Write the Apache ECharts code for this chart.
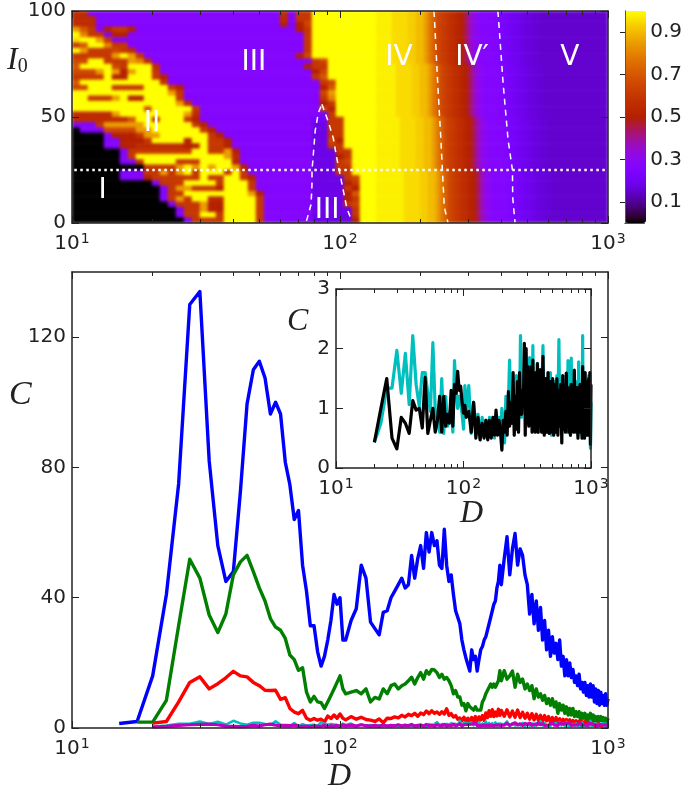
<!DOCTYPE html>
<html><head><meta charset="utf-8">
<style>html,body{margin:0;padding:0;background:#fff}#c{width:685px;height:790px}</style>
<script src="https://cdn.jsdelivr.net/npm/echarts@6/dist/echarts.min.js"></script>
</head><body><div id="c"></div>
<script>
// ---------- line chart data ----------
const D_LOW=[15,17.5,20,22.5,25,27.5,30,32.5,35,37.5,40,42.5,45,47.5,50,52.5,55,57.5,60,62.5,65,67.5,70,72.5,75,77.5,80,82.5,85,87.5,90,92.5,95,97.5,100,102.5];
const D_MID=[105,110,115,120,125,130,135,140,145,150,155,160,165,170,175,180,185,190,195,200,205,210,215,220,225,230,235,240,245,250,255,260,265,270,275,280,285,290,295,300,305,310,315,320,325,330,335,340,345,350,355,360,365,370,375,380,385,390,395,400];
const D_HIGH=[410,420,430,440,450,460,470,480,490,500,510,520,530,540,550,560,570,580,590,600,610,620,630,640,650,660,670,680,690,700,710,720,730,740,750,760,770,780,790,800,810,820,830,840,850,860,870,880,890,900,910,920,930,940,950,960,970,980,990,1000];
const BLUE=[1.4,2,16,41,75,130,134,82,56,45,48,72.6,99.5,110,112.6,107.5,96.4,100,96.4,81.6,74.7,64,66.8,50,42,31.4,31.4,23.4,19,22,27,33,41,38,40,27,
27,33,36.6,50,46,32.5,30.5,28.6,35.5,36,
40,42,44,46,43,44,53,46,52,56,
49,60,54,60,56,57.5,50,49,61,50,
45,47,41,36,34,32,27,24,21.5,21,
17.5,24,21,22,17.5,21,24,25,27,28,
30,32,34,36,38,39,43,45,50,44,
52,58.7,47,55,59.7,50,55,53,47,44,
35,41,32,39,30,37,27,33,24,30,
22,28,23,26,21,27,19,22,16,21,
16,20,15.5,18,14,16,13,16.5,12,14,
11,14,10,13,9.5,13.5,9.5,13,8,12,
7.5,11.5,7,11,7.5,10,7,10.5,7,9];
const GREEN=[null,1.8,1.8,8.5,31.5,51.8,46,34.7,29.3,35,47,51,53,48,43,39,33.6,31,30,27.5,22.4,21,17.7,18.5,11,8,9.7,8,7.8,6,8,10,12,14,16,12,
10.5,11,11.5,10.5,12,8,9.4,8.9,12,10.5,
13,13.5,12,13,13.5,14.5,15.6,13.5,15.5,17,
15,17.6,16.5,18,17.8,17,15.5,16.5,15,15.5,
14.5,13,10.5,11.5,9.5,9.5,7,7.5,5.3,7.5,
6.5,7,5.5,6.5,5.5,6,5.5,8,9,10.5,
11.5,12,13.5,12.5,13.5,12.5,12.5,14.5,17.6,14.5,
17.6,15,16,17.5,12.5,16.5,14,15,12,13.5,
11.5,13,9,12,9.5,10.5,8.5,10,7.5,9,
7,9,6.5,8,4.5,7.5,5.5,7,4.5,6.5,
4,6,4,6,3.5,5,3.5,5,2.5,4.5,
3,4.5,2.5,4,2.5,4.5,2.3,4,2.2,3.5,
2.2,3.5,2.3,3.5,2.2,3.2,1.8,3,1.8,3];
const RED=[null,null,1.5,2,8,14,15.7,12,13.6,15.4,17.4,16,15.7,14,13,11.6,11.5,11.6,8.8,9.3,6,4.9,4.4,5.4,3,2.4,2.9,2.4,2.7,1.8,3.7,2.9,4,3,4.3,3,
2.5,3.5,2.7,3.3,2.6,2.4,2,2.8,1.6,3,
2.9,3.4,3.1,3.9,3.4,4.2,3.8,4.5,3.6,4.6,
4.1,5.2,4.4,5.3,4.5,4.9,4.2,5,4.3,5.9,
3.9,4.4,3.4,3.8,2.7,3.1,2.2,3.3,2,3,
1.6,3.2,2,3.5,1.8,3.4,2.5,3.8,2.3,4.6,
3.2,5.3,3.6,5.6,3.5,4.9,3.7,5.8,3.9,5.4,
3.6,5.6,3.4,5.2,3.3,5.5,3.2,4.8,3,4.5,
2.7,4.4,2.5,4.2,2.4,3.9,2,3.8,2.2,3.5,
1.8,3.2,1.9,3.2,1.6,2.8,1.5,2.7,1.5,2.6,
1.3,2.5,1.2,2.3,1.4,2.2,1.1,2.1,1.2,2,
.9,1.9,1,1.8,.8,1.8,.9,1.6,.8,1.5,
.7,1.5,.8,1.4,.7,1.3,.8,1.3,.6,1.2];
const CYAN=[null,null,.43,.75,1.34,1.34,1.97,1.25,1.92,1.06,2.22,1.4,1.03,1.6,1.6,1.25,.95,2.1,.98,.8,.6,1.5,.58,1.2,.7,.9,1,.6,1.8,1.3,1,1.2,1.1,.9,.65,1.38,
.95,1.38,.58,1.1,.7,.9,.5,.85,.55,.8,
.5,.85,.55,.8,.5,.9,.6,.85,.55,1,
.65,.42,1.2,.7,1.15,1.81,.75,1.25,.8,1.3,
.7,1.55,.8,1.3,.9,2.22,.85,1.6,1,1.45,
.9,1.7,.8,1.5,.85,1.85,.75,1.4,.7,2.05,
.8,1.6,.65,1.5,.75,1.75,.6,1.4,.8,1.3,
1.1,2.05,.6,1.5,.7,1.3,.75,1.6,.55,1.35,
.7,1.45,.6,1.55,.9,2.15,.75,1.5,.85,1.4,
.65,1.3,.8,1.55,.6,1.8,.75,1.4,.55,1.84,
.7,1.2,.65,1.3,.6,1.45,.75,1.25,.55,1.78,
.65,1.2,.7,1.3,.55,2.22,.6,1.3,.7,1.45,
.55,1.2,.65,1.3,.7,1.55,.6,1.4,.33,1.1];
const BLACK=[null,null,.43,1,1.5,.5,.32,.85,.75,.58,1.13,.97,1,.67,1.52,.58,.8,1,.6,.8,1.2,.6,1.2,.7,.9,.75,1.3,.7,1.4,1.25,1.62,1.3,1.37,1.1,.92,1.05,
.85,.95,.6,1.1,.5,.85,.47,.75,.5,.8,
.47,.8,.5,.85,.55,.97,.55,.8,.6,.3,
.8,.6,.95,.55,1.28,.7,1.1,.75,1.6,.55,
1.2,.65,1.45,.6,1.6,1,.9,1.3,1.1,2.09,
.55,2,.75,1.7,.7,1.55,.8,1.7,.6,1.81,
.75,1.45,.6,1.6,.7,1.75,.6,1.5,.7,1.65,
.6,1.87,.55,1.5,.6,1.6,.58,1.45,.6,1.5,
.55,1.4,.6,1.5,.55,1.3,.7,1.4,.42,1.55,
.65,1.3,.6,1.59,.7,1.25,.6,1.35,.55,1.4,
.65,1.3,.6,1.64,.7,1.2,.6,1.35,.5,1.3,
.65,1.4,.6,1.3,.5,1.7,.55,1.4,.5,1.6,
.6,1.45,.55,1.3,.6,1.5,.55,1.6,.4,1.4];
const MAGENTA=[null,null,.3,.5,.8,1,1.1,1.2,1,.6,.5,.4,.5,.8,.6,1,1.2,.9,.7,.8,.7,.9,.6,.5,.6,.4,.7,.5,.6,.8,.4,.7,.6,.8,.5,.9,
.7,.9,.6,1,.7,.6,.8,.5,.9,.6,
.8,.7,1,.6,.9,.7,1.1,.6,.8,.9,
.6,1.1,.7,.9,.6,1,.8,.7,1.1,.6,
.9,.7,1.2,.7,.9,1.3,.6,1,.8,1.1,
.7,1.2,.9,1.5,.8,1.1,.7,1.3,.9,1.2,
.8,1.4,.9,1.1,.7,1.3,1,1.5,.8,1.2,
.9,1.4,.8,1.2,1.6,.9,1.3,.8,1.4,1,
1.5,.8,1.2,.9,1.6,1,1.3,.8,1.4,.9,
1.2,1.6,.9,1.3,.8,1.5,1,1.2,.7,1.4,
1.1,1.6,.8,1.3,1,1.5,.9,1.2,1.6,.8,
1.4,1,1.3,.8,1.5,.9,1.2,1.7,1,1.3,
.8,1.4,1.1,1.6,.9,1.3,1,1.5,.9,1.2];
// ---------- heatmap data: run-length rows, top (I0=100) to bottom (I0=0) ----------
const LEVELS={z:0,a:.15,b:.18,c:.22,d:.25,e:.27,f:.3,g:.35,h:.4,i:.45,j:.5,k:.55,l:.6,m:.65,n:.7,o:.75,p:.8,q:.85,r:.9,s:.95,t:1,
 A:.98,B:.93,C:.88,D:.82,E:.78,F:.72,G:.67,H:.62,I:.57,J:.52,K:.47,L:.42,M:.37,N:.32,O:.29,P:.26,Q:.235,R:.21,S:.195,T:.17,U:.16,V:.15};
const HEAT_LEFT=["k2e24k1e1l2","k3e23k1e1l2","k3e23j1d1j1m1","q1n1l1e1j1l2j1e20j1l1","t1p1l2e1j2e22l1","s1t2q1l1e24l1","l1n1t2p1l2e22l1","t1q1l3m1l1k1e21l1","l5q1t1q1l1e19j1m1","m2t2l3q1p1k1e20l1m1",
"n1t4m1l1t3k1e18j1l2","m3q1t1q1j1q1t2l1e19j1m1","l4t1j2t3l1j1e18l1n1","n1t10l1e19l1m1","m2t3l4t3l1j1e17j1n1","t12q1l1e17m1q1","t2l3q1t1j2t4l1e17l1p1","t13q1k1e16j1l1","t9n1t5l1e15m1j1","k5q1t8q1k1e15c1l1",
"k7n1t2l1t3l1j1e14c2l2","e3l1q5t6l1j1e13b2l2","z1e3m4q2t6l1j1e12b2l2","z4e1j3l1q2t6l1j1e11b2l2","z4e2j3l1t4j1t2l2j1e10b2m1j1","z4e2j2k6j2t1l2j1e10b2l2","z6e1l8t2l2q1j1e9b3l2","z6e1l1t11q1k1e9b3j1l1","z6e2l1t4l3t4j1e9b3l1m1","z9l4q1t1q1t1q1t2q1j1e8b3l2",
"z6e3l2q1l1q1t1l1t3l1t1l1e8b3l2","z6e3j1l6t1l2t2l1j1e7b4l1m1","z10e1l3t4l1t3l1e7b4j1l1","z11e1l1q2l3j1t3l1e7b4l1j1","z11e1l2t8q1j1e6b4j1n1","z11e1l1q1l1t2k2t4l1e6b4j1l1","z12e1l3q1j2t4l1e6b4l1m1","z13e1l2q1j2t4l1e6b5l1","z13e1l2t2l1t4l1e6b5l1","z14e1l4t4l1e6b5j1"];
const HEAT_TAILS=[
 "A4s4B2r2q1E1F1m1H1l1I1k1J1j1i1M1N1O1e3P1d1Q1c1R1S2b1T2U2V17",
 "A5s4B2r2q1E1F1m1H1l1I1k1J1j1i1M1N1O1e3P1d1Q1c1R1S2b1T2U2V16",
 "A6s4B2r2q1E1F1m1H1l1I1k1J1j1i1M1N1O1e3P1d1Q1c1R1S2b1T2U2V15",
 "A7s4B2r2q1E1F1m1H1l1I1k1J1j1i1M1N1O1e3P1d1Q1c1R1S2b1T2U2V14"];
const HEAT_COLS=134, HEAT_ROWS=40, LEFT_COLS=38;
// ---------- boundaries (dashed), regions ----------
const B_III_L=[[75,1],[78,8.8],[78.6,18.2],[78.6,24.5],[79.7,34],[80.8,43.4],[83,52],[85.6,56]];
const B_III_R=[[85.6,56],[90.3,48],[94.4,40],[97.2,30.8],[100,23],[103,15],[106,7.2],[110.5,1]];
const B_IV=[[224,100],[225,97],[231.5,66],[238,39],[241,25],[245,7.5],[253,0]];
const B_V=[[388,100],[390,97],[406,66],[424,39],[440,25],[441,12],[450,0]];
const CUT=[[10.2,25],[990,25]];
const REGIONS=[['I',13,15],['II',19.9,46.6],['III',47.7,75.6],['III',89.5,5.7],['IV',166,78],['IV′',311,78],['V',721,78]];
// ---------- ticks ----------
const X_MAJOR=[10,100,1000];
const X_MINOR=[20,30,40,50,60,70,80,90,200,300,400,500,600,700,800,900];
const Y_HEAT=[0,50,100], Y_MAIN=[0,40,80,120], Y_INSET=[0,1,2,3], CB_TICKS=[.1,.3,.5,.7,.9];

const FONT='DejaVu Sans', MATH='Liberation Serif', AX='#222';
const D_ALL=[...D_LOW,...D_MID,...D_HIGH];
const pairs=v=>v.map((y,i)=>[D_ALL[i],y]).filter(p=>p[1]!==null);
function gnuplot(x){const c=v=>Math.round(255*Math.max(0,Math.min(1,v)));return `rgb(${c(Math.sqrt(x))},${c(x*x*x)},${c(Math.sin(2*Math.PI*x))})`;}
const stops=[];for(let i=0;i<=64;i++)stops.push(gnuplot(i/64));
function rle(s){const o=[];s.replace(/([a-zA-Z])(\d+)/g,(m,c,n)=>{for(let i=0;i<+n;i++)o.push(LEVELS[c]);return m;});return o;}
const heatData=[];
HEAT_LEFT.forEach((row,r)=>{
  const left=rle(row);while(left.length<LEFT_COLS)left.push(1);
  const doubled=[];left.forEach(v=>doubled.push(v,v));
  const tail=rle(HEAT_TAILS[Math.min(3,Math.floor(r/10))]);
  doubled.concat(tail).forEach((v,c)=>heatData.push([c,HEAT_ROWS-1-r,v]));
});
const colCats=[];for(let i=0;i<HEAT_COLS;i++)colCats.push(String(i));
const rowCats=[];for(let i=0;i<HEAT_ROWS;i++)rowCats.push(String(i));

const tickLabel=v=>`{b|10}{s|${Math.round(Math.log10(v))}}`;
const labelRich={b:{fontFamily:FONT,fontSize:20,color:AX},s:{fontFamily:FONT,fontSize:14,color:AX,padding:[0,0,10,1]}};
function logAxes(g){
  const base={type:'log',logBase:10,min:10,max:1000,gridIndex:g,z:5,splitLine:{show:false},minorTick:{show:false}};
  const line={show:true,lineStyle:{color:AX,width:1.5}};
  return [
   {...base,position:'bottom',axisLine:line,axisTick:{show:true,inside:true,length:7,customValues:X_MAJOR,lineStyle:{color:AX}},
    axisLabel:{show:true,customValues:X_MAJOR,margin:9,formatter:tickLabel,rich:labelRich,showMinLabel:true,showMaxLabel:true,hideOverlap:false}},
   {...base,position:'bottom',axisLine:{show:false},axisTick:{show:true,inside:true,length:4,customValues:X_MINOR,lineStyle:{color:AX}},axisLabel:{show:false}},
   {...base,position:'top',axisLine:line,axisTick:{show:true,inside:true,length:7,customValues:X_MAJOR,lineStyle:{color:AX}},axisLabel:{show:false}},
   {...base,position:'top',axisLine:{show:false},axisTick:{show:true,inside:true,length:4,customValues:X_MINOR,lineStyle:{color:AX}},axisLabel:{show:false}}
  ];
}
function valAxes(g,min,max,ticks){
  const base={type:'value',min,max,gridIndex:g,z:5,splitLine:{show:false}};
  const line={show:true,lineStyle:{color:AX,width:1.5}};
  return [
   {...base,position:'left',axisLine:line,axisTick:{show:true,inside:true,length:7,customValues:ticks,lineStyle:{color:AX}},
    axisLabel:{show:true,customValues:ticks,margin:6,fontFamily:FONT,fontSize:20,color:AX,showMinLabel:true,showMaxLabel:true}},
   {...base,position:'right',axisLine:line,axisTick:{show:true,inside:true,length:7,customValues:ticks,lineStyle:{color:AX}},axisLabel:{show:false}}
  ];
}
const xAxis=[{type:'category',gridIndex:0,data:colCats,show:false},...logAxes(1),...logAxes(2),...logAxes(3),
  {type:'value',gridIndex:4,min:0,max:1,position:'bottom',z:5,axisLine:{show:true,lineStyle:{color:'#555',width:1}},axisTick:{show:false},axisLabel:{show:false},splitLine:{show:false}},
  {type:'value',gridIndex:4,min:0,max:1,position:'top',z:5,axisLine:{show:true,lineStyle:{color:'#555',width:1}},axisTick:{show:false},axisLabel:{show:false},splitLine:{show:false}}];
const yAxis=[{type:'category',gridIndex:0,data:rowCats,show:false},...valAxes(1,0,100,Y_HEAT),...valAxes(2,0,140,Y_MAIN),...valAxes(3,0,3,Y_INSET),
  {type:'value',gridIndex:4,min:0,max:1,position:'left',z:5,axisLine:{show:true,lineStyle:{color:'#555',width:1}},axisTick:{show:false},axisLabel:{show:false},splitLine:{show:false}},
  {type:'value',gridIndex:4,min:0,max:1,position:'right',z:5,axisLine:{show:true,lineStyle:{color:'#555',width:1}},
   axisTick:{show:true,inside:true,length:5,customValues:CB_TICKS,lineStyle:{color:AX}},
   axisLabel:{show:true,customValues:CB_TICKS,margin:6,fontFamily:FONT,fontSize:20,color:AX,formatter:v=>v.toFixed(1)},splitLine:{show:false}}];

const mk=(name,data,color,xi,yi,w)=>({name,type:'line',data,xAxisIndex:xi,yAxisIndex:yi,showSymbol:false,symbol:'none',animation:false,lineStyle:{color,width:w,join:'round'},silent:true});
const white=(name,data,type,w)=>({name,type:'line',data,xAxisIndex:1,yAxisIndex:1,symbol:'none',animation:false,silent:true,lineStyle:{color:'#fff',width:w,type},z:3});

const HEAT_LAYER=-1;
const series=[
 {name:'heat',type:'heatmap',data:heatData,xAxisIndex:0,yAxisIndex:0,animation:false,silent:true,progressive:0,zlevel:HEAT_LAYER},
 white('b1',B_III_L,[6,5],1.5),white('b2',B_III_R,[6,5],1.5),white('b3',B_IV,[6,5],1.5),white('b4',B_V,[6,5],1.5),white('cut',CUT,[2.5,3.5],2.5),
 {name:'regions',type:'scatter',xAxisIndex:1,yAxisIndex:1,data:REGIONS.map(r=>({name:r[0],value:[r[1],r[2]]})),symbolSize:0,z:4,animation:false,silent:true,
  itemStyle:{opacity:1},label:{show:true,position:'inside',formatter:p=>p.name,color:'#fff',fontFamily:FONT,fontSize:28}},
 mk('blue',pairs(BLUE),'#0000ff',5,3,3.4),
 mk('green',pairs(GREEN),'#007f00',5,3,3.4),
 mk('red',pairs(RED),'#ff0000',5,3,3.4),
 mk('cyan',pairs(CYAN),'#00bfbf',5,3,2.5),
 mk('magenta',pairs(MAGENTA),'#bf00bf',5,3,3.2),
 mk('inset cyan',pairs(CYAN),'#00bfbf',9,5,3.2),
 mk('inset black',pairs(BLACK),'#000000',9,5,3.2)
];
const math=(t,x,y,size)=>({type:'text',left:x,top:y,z:20,style:{text:t,fontFamily:MATH,fontStyle:'italic',fontSize:size,fill:'#222'}});
const chart=echarts.init(document.getElementById('c'),null,{renderer:'canvas'});
chart.setOption({
 animation:false,
 grid:[
  {left:72,top:11,width:536,height:212},
  {left:72,top:11,width:536,height:212},
  {left:72,top:272,width:536,height:456},
  {left:336,top:289,width:255,height:179,show:true,backgroundColor:'#fff',borderWidth:0,z:3},
  {left:625,top:11,width:21,height:212}
 ],
 xAxis,yAxis,series,
 visualMap:{type:'continuous',seriesIndex:0,dimension:2,min:0,max:1,inRange:{color:stops},left:625,top:11,itemWidth:21,itemHeight:212,padding:0,text:null,calculable:false,hoverLink:false,realtime:false,show:true,textStyle:{color:'transparent'}},
 graphic:[
  {type:'text',left:7,top:45,z:20,style:{text:'{i|I}{s|0}',rich:{i:{fontFamily:MATH,fontStyle:'italic',fontSize:32,fill:'#222'},s:{fontFamily:MATH,fontSize:20,fill:'#222',padding:[12,0,0,0]}}}},
  math('C',9,378,34),math('C',287,306,32),math('D',328,761,32),math('D',460,498,32)
 ]
});
// soften the heat layer a little, as the blurred raster in the reference, and keep it inside its axes
const heatCanvas=chart.getZr().painter.getLayer(HEAT_LAYER).dom;
heatCanvas.style.filter='blur(1.4px)';
heatCanvas.style.clipPath='inset(11px 77px 567px 72px)';
</script></body></html>
